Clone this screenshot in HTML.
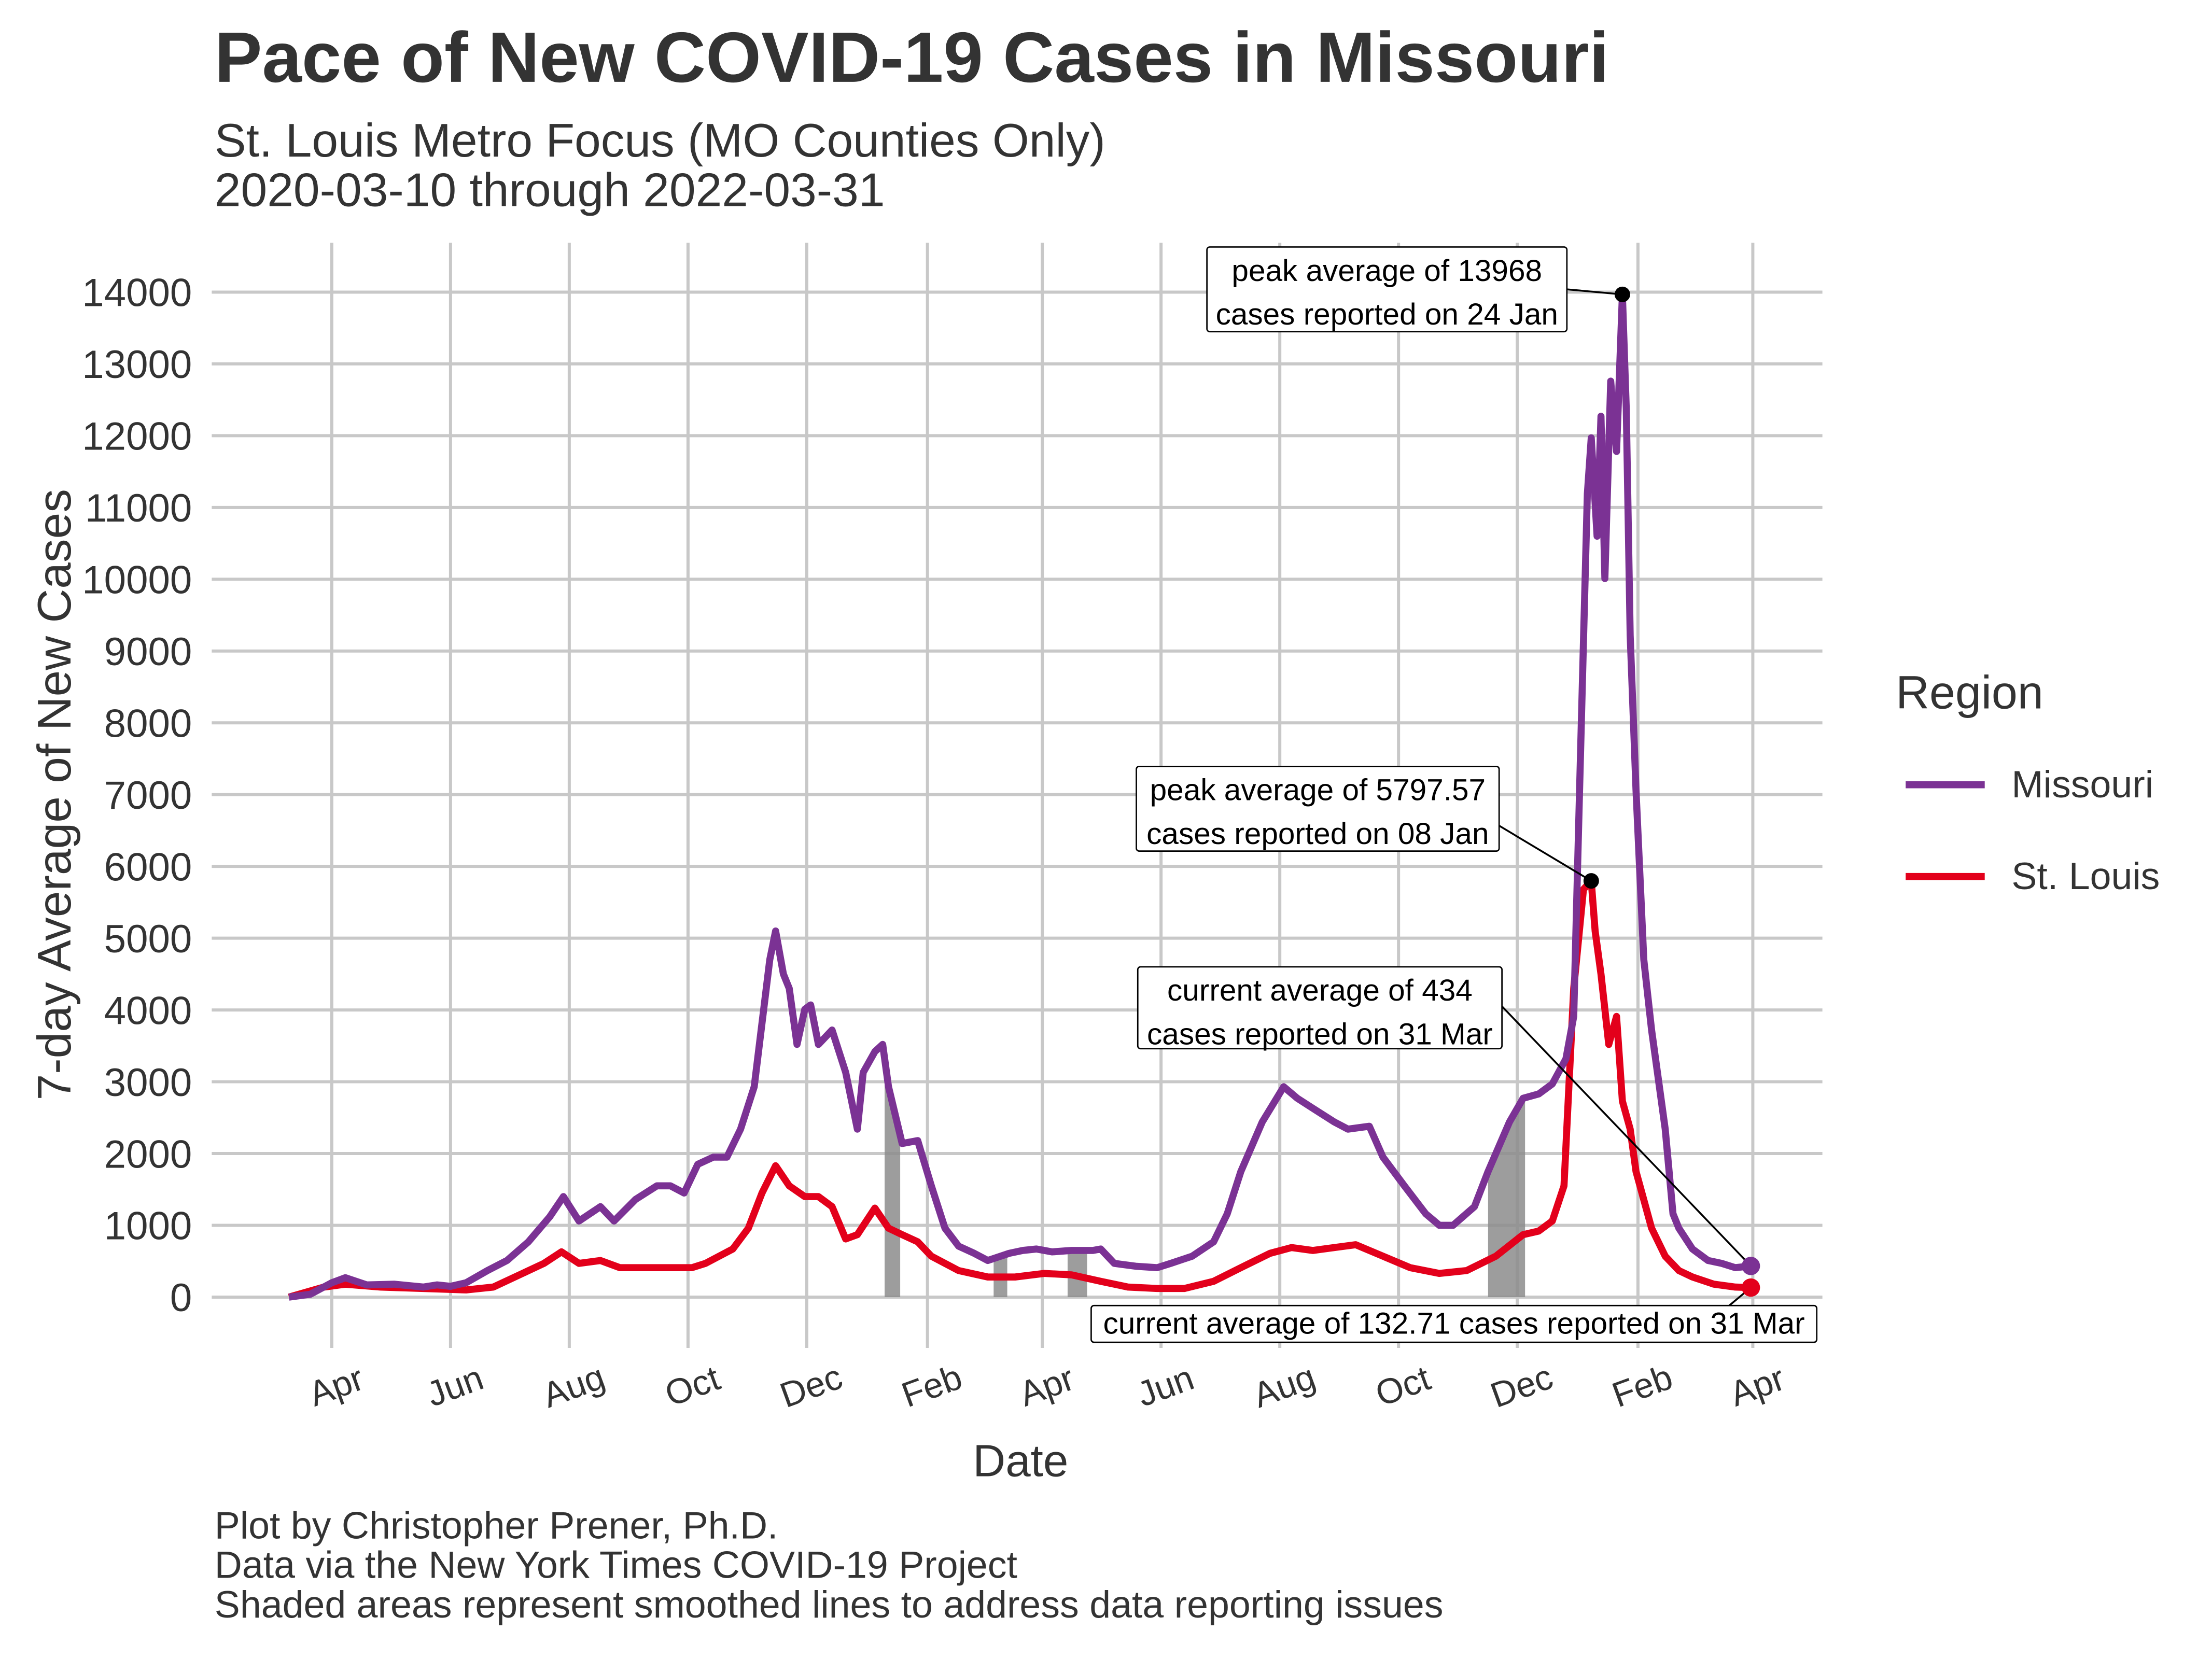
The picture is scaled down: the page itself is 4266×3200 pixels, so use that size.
<!DOCTYPE html>
<html><head><meta charset="utf-8"><style>
html,body{margin:0;padding:0;background:#fff;}
svg{display:block;font-family:"Liberation Sans",sans-serif;}
</style></head><body>
<svg id="chart" width="4266" height="3200" viewBox="0 0 1567 1175.4" preserveAspectRatio="none" xmlns="http://www.w3.org/2000/svg">
<rect width="1567" height="1175.4" fill="#fff"/>
<text x="152" y="58" font-size="50.5" font-weight="bold" fill="#333">Pace of New COVID-19 Cases in Missouri</text>
<text x="152" y="111" font-size="33.5" fill="#333">St. Louis Metro Focus (MO Counties Only)</text>
<text x="152" y="146" font-size="33.5" fill="#333">2020-03-10 through 2022-03-31</text>
<g id="grid"></g>
<g id="shade"></g>
<g id="lines"></g>
<g id="axes"></g>
<g id="annot"></g>
<text transform="translate(50,563) rotate(-90)" text-anchor="middle" font-size="33.5" fill="#333">7-day Average of New Cases</text>
<text x="723" y="1046" text-anchor="middle" font-size="32" fill="#333">Date</text>
<g>
<text x="1343" y="502" font-size="33" fill="#333">Region</text>
<line x1="1350" y1="556" x2="1406" y2="556" stroke="#7b3294" stroke-width="5"/>
<text x="1425" y="565" font-size="27" fill="#333">Missouri</text>
<line x1="1350" y1="621" x2="1406" y2="621" stroke="#e3001b" stroke-width="5"/>
<text x="1425" y="630" font-size="27" fill="#333">St. Louis</text>
</g>
<text x="152" y="1090" font-size="27" fill="#333">Plot by Christopher Prener, Ph.D.</text>
<text x="152" y="1118" font-size="27" fill="#333">Data via the New York Times COVID-19 Project</text>
<text x="152" y="1146" font-size="27" fill="#333">Shaded areas represent smoothed lines to address data reporting issues</text>
</svg>
<script>
const moDays=[0,11,22,29,40,54,69,76,83,91,102,112,123,134,141,149,160,167,178,189,196,203,210,218,225,232,239,247,250,254,257,261,265,268,272,279,286,292,295,301,305,308,315,323,330,337,344,352,359,370,377,384,392,402,413,417,424,435,446,453,464,475,482,489,500,511,518,526,537,544,555,562,573,584,591,598,609,616,627,634,642,649,656,660,663,667,669,672,674,676,679,682,685,687,689,692,696,700,703,707,711,714,721,729,736,743,751];
const moVals=[0,40,200,270,170,180,140,170,150,200,370,510,770,1120,1400,1060,1260,1060,1360,1550,1550,1450,1850,1950,1950,2340,2930,4700,5100,4500,4300,3520,4010,4070,3520,3720,3130,2340,3130,3420,3520,2930,2140,2180,1550,960,710,610,510,610,650,670,630,650,650,670,470,430,410,470,570,770,1160,1750,2440,2930,2770,2630,2440,2340,2380,1950,1550,1160,1000,1000,1260,1750,2440,2770,2830,2970,3320,3910,7060,11190,11970,10600,12270,10010,12760,11780,13968,12370,9220,7060,4700,3720,3130,2340,1160,960,670,510,470,410,434];
const slDays=[0,18,29,47,69,91,105,120,131,140,149,160,170,192,207,214,221,228,236,243,250,257,265,272,279,286,292,301,308,315,323,330,344,359,373,388,402,417,431,446,460,475,489,504,515,526,537,548,562,576,591,605,620,634,642,649,655,660,665,669,671,674,678,682,685,689,692,700,707,714,721,732,743,751];
const slVals=[0,140,180,140,120,100,140,330,470,630,470,510,410,410,410,470,570,670,960,1450,1830,1550,1400,1400,1260,810,870,1240,960,870,770,570,370,280,280,330,310,220,140,120,120,220,410,610,690,650,690,730,570,410,330,370,570,870,920,1060,1550,4300,5680,5798,5100,4500,3520,3910,2730,2340,1750,960,570,370,280,180,140,133];
const shadeRanges=[[306,314],[362,369],[400,410],[616,635]];
const yTicks=[0,1000,2000,3000,4000,5000,6000,7000,8000,9000,10000,11000,12000,13000,14000];
const xTickDays=[22,83,144,205,266,328,387,448,509,570,631,693,752];
const xTickLabels=["Apr","Jun","Aug","Oct","Dec","Feb","Apr","Jun","Aug","Oct","Dec","Feb","Apr"];

const NS="http://www.w3.org/2000/svg";
const X=d=>204.7+d*1.379, Y=v=>919-v*0.05086;
const L=150,R=1291,T=172,B=955;
function mk(tag,attrs,parent){const e=document.createElementNS(NS,tag);for(const k in attrs)e.setAttribute(k,attrs[k]);parent.appendChild(e);return e;}
const grid=document.getElementById('grid'),axes=document.getElementById('axes');
yTicks.forEach(v=>{
 const l=mk('line',{x1:L,x2:R,y1:Y(v),y2:Y(v),stroke:'#c8c8c8','stroke-width':2.2},grid);
 
 
 const t=mk('text',{x:136,y:Y(v)+10,'text-anchor':'end','font-size':28,fill:'#333'},axes);
 t.textContent=v;
 
 
});
xTickDays.forEach((d,i)=>{
 const l=mk('line',{x1:X(d),x2:X(d),y1:T,y2:B,stroke:'#c8c8c8','stroke-width':2.2},grid);
 
 
 const t=mk('text',{transform:`translate(${X(d)+6},${990}) rotate(-20)`,'text-anchor':'middle','font-size':25,fill:'#333'},axes);
 t.textContent=xTickLabels[i];
 
 
});
function interp(days,vals,d){for(let i=1;i<days.length;i++){if(d<=days[i]){const f=(d-days[i-1])/(days[i]-days[i-1]);return vals[i-1]+f*(vals[i]-vals[i-1]);}}return vals[vals.length-1];}
const shade=document.getElementById('shade');
shadeRanges.forEach(r=>{
 let pts=`${X(r[0])},${Y(0)} `;
 for(let d=r[0];d<=r[1];d+=0.5)pts+=`${X(d)},${Y(interp(moDays,moVals,d))} `;
 pts+=`${X(r[1])},${Y(0)}`;
 const p=mk('polygon',{points:pts,fill:'#8c8c8c','fill-opacity':0.85},shade);
 
 
});
const lines=document.getElementById('lines');
function line(days,vals,color,name){
 const p=mk('polyline',{points:days.map((d,i)=>X(d)+','+Y(vals[i])).join(' '),fill:'none',stroke:color,'stroke-width':5,'stroke-linejoin':'round'},lines);
 
 
}
line(slDays,slVals,'#e3001b','stlouis-line');
line(moDays,moVals,'#7b3294','missouri-line');
const an=document.getElementById('annot');
function box(x,y,w,h,texts,lx1,ly1,lx2,ly2,name){
 const ln=mk('line',{x1:lx1,y1:ly1,x2:lx2,y2:ly2,stroke:'#000','stroke-width':1.3},an);
 
 
 const r=mk('rect',{x:x,y:y,width:w,height:h,fill:'#fff',stroke:'#000','stroke-width':1,rx:2},an);
 
 
 texts.forEach((s,i)=>{const t=mk('text',{x:x+w/2,y:y+(texts.length==1?20:24+i*31),'text-anchor':'middle','font-size':21.5,fill:'#000'},an);t.textContent=s;
 
 });
}
const pk=moVals.indexOf(13968), pks=slVals.indexOf(5798);
box(855,175,255,60,['peak average of 13968','cases reported on 24 Jan'],1110,205,X(moDays[pk]),Y(moVals[pk]),'mo-peak');
box(805,543,257,60,['peak average of 5797.57','cases reported on 08 Jan'],1062,585,X(slDays[pks]),Y(slVals[pks]),'stl-peak');
box(806,685,258,58,['current average of 434','cases reported on 31 Mar'],1064,713,X(751),Y(434),'mo-current');
box(773,925,514,26,['current average of 132.71 cases reported on 31 Mar'],1225,925,X(751),Y(133),'stl-current');
function dot(x,y,r,c,name){const d=mk('circle',{cx:x,cy:y,r:r,fill:c},an);}
dot(X(moDays[pk]),Y(moVals[pk]),5.5,'#000','mo-peak-point');
dot(X(slDays[pks]),Y(slVals[pks]),5.5,'#000','stl-peak-point');
dot(X(751),Y(434),6.5,'#7b3294','mo-current-point');
dot(X(751),Y(133),6.5,'#e3001b','stl-current-point');
</script>
</body></html>
